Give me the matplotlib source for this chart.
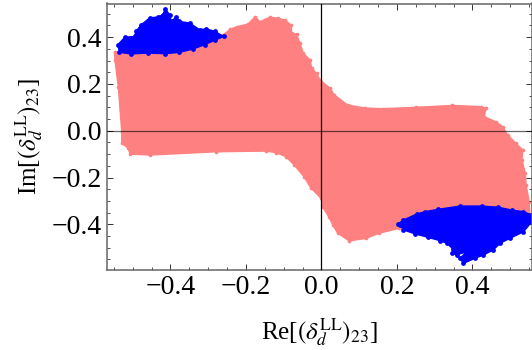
import matplotlib
matplotlib.use('Agg')
import matplotlib.pyplot as plt
from matplotlib.ticker import MultipleLocator, FixedFormatter, FixedLocator

plt.rcParams['font.family'] = ['Liberation Serif', 'DejaVu Serif']
plt.rcParams['mathtext.fontset'] = 'stix'

# outline of the allowed (pink) region
pink_re = [-0.548, -0.52, -0.49, -0.40, -0.33, -0.26, -0.242, -0.225, -0.194, -0.176, -0.163, -0.136, -0.114,
           -0.097, -0.081, -0.079, -0.066, -0.057, -0.048, -0.03, -0.026, -0.013, -0.004, 0.023, 0.034,
           0.069, 0.115, 0.162, 0.25, 0.347, 0.422, 0.436, 0.431, 0.462, 0.48, 0.493, 0.515, 0.533,
           0.531, 0.54, 0.542, 0.55, 0.552, 0.50, 0.30, 0.206, 0.153, 0.118, 0.074, 0.043, 0.03, 0.02,
           0.003, -0.001, -0.028, -0.046, -0.072, -0.094, -0.12, -0.147, -0.278, -0.454, -0.507,
           -0.512, -0.529, -0.529, -0.538, -0.547]
pink_im = [0.335, 0.34, 0.34, 0.34, 0.37, 0.41, 0.433, 0.444, 0.456, 0.487, 0.466, 0.485, 0.48,
           0.473, 0.452, 0.416, 0.413, 0.373, 0.331, 0.302, 0.267, 0.245, 0.217, 0.181, 0.153,
           0.11, 0.097, 0.094, 0.1, 0.108, 0.103, 0.096, 0.06, 0.038, 0.017, -0.018, -0.054, -0.082,
           -0.125, -0.182, -0.232, -0.303, -0.36, -0.36, -0.36, -0.417, -0.438, -0.46, -0.471, -0.438,
           -0.403, -0.37, -0.325, -0.289, -0.245, -0.197, -0.147, -0.111, -0.094, -0.087, -0.09, -0.104,
           -0.1, -0.074, -0.054, -0.004, 0.188, 0.302]

# outlines of the two blue patches
blue_up_re = [-0.539, -0.521, -0.495, -0.491, -0.477, -0.455, -0.433, -0.42, -0.414, -0.402, -0.398, -0.385,
              -0.376, -0.349, -0.323, -0.305, -0.283, -0.259, -0.283, -0.309, -0.34, -0.376, -0.415, -0.46,
              -0.504, -0.535]
blue_up_im = [0.368, 0.399, 0.403, 0.425, 0.453, 0.482, 0.486, 0.496, 0.52, 0.496, 0.467, 0.486,
              0.467, 0.46, 0.432, 0.435, 0.425, 0.403, 0.386, 0.368, 0.349, 0.335, 0.329, 0.332,
              0.328, 0.335]
blue_lo_re = [0.202, 0.217, 0.252, 0.274, 0.309, 0.367, 0.424, 0.468, 0.504, 0.535, 0.557, 0.557, 0.535,
              0.499, 0.473, 0.455, 0.429, 0.407, 0.376, 0.367, 0.385, 0.358, 0.345, 0.349, 0.332, 0.314,
              0.283, 0.248, 0.217, 0.208]
blue_lo_im = [-0.399, -0.382, -0.356, -0.346, -0.336, -0.322, -0.322, -0.327, -0.339, -0.346, -0.36, -0.389,
              -0.432, -0.46, -0.481, -0.51, -0.531, -0.545, -0.567, -0.545, -0.517, -0.531, -0.524, -0.507,
              -0.481, -0.47, -0.456, -0.441, -0.424, -0.403]

major = [-0.4, -0.2, 0.0, 0.2, 0.4]
labels = ['\u22120.4', '\u22120.2', '0.0', '0.2', '0.4']

pink = '#ff8080'
blue = '#0000ff'
frame = '#666666'

fig = plt.figure(figsize=(5.32, 3.5), dpi=100)
ax = fig.add_axes([107 / 532, (350 - 269.7) / 350, 425 / 532, 266.2 / 350])

ax.fill(pink_re, pink_im, facecolor=pink, edgecolor=pink, lw=1, joinstyle='round', zorder=1)
ax.scatter(pink_re, pink_im, s=7, color=pink, lw=0, zorder=1)
ax.fill(blue_up_re, blue_up_im, facecolor=blue, edgecolor=blue, lw=1, joinstyle='round', zorder=2)
ax.scatter(blue_up_re, blue_up_im, s=12, color=blue, lw=0, zorder=2)
ax.fill(blue_lo_re, blue_lo_im, facecolor=blue, edgecolor=blue, lw=1, joinstyle='round', zorder=2)
ax.scatter(blue_lo_re, blue_lo_im, s=12, color=blue, lw=0, zorder=2)

ax.axhline(0, color='black', lw=0.9, alpha=0.6, zorder=3)
ax.axvline(0, color='black', lw=0.9, zorder=3)

ax.set_xlim(-0.568, 0.5576)
ax.set_ylim(-0.594, 0.5436)

for axis in (ax.xaxis, ax.yaxis):
    axis.set_major_locator(FixedLocator(major))
    axis.set_major_formatter(FixedFormatter(labels))
    axis.set_minor_locator(MultipleLocator(0.05))

ax.tick_params(which='major', direction='in', length=4.5, width=0.7, color='#333333',
               top=True, right=True, labelsize=20, pad=4)
ax.tick_params(which='minor', direction='in', length=2.5, width=0.6, color='#333333',
               top=True, right=True)

for s in ax.spines.values():
    s.set_color(frame)
    s.set_linewidth(1.1)

ax.set_xlabel(r'Re[$(\delta_d^{\mathrm{LL}})_{23}$]', fontsize=18)
ax.set_ylabel(r'Im[$(\delta_d^{\mathrm{LL}})_{23}$]', fontsize=18)
ax.xaxis.set_label_coords(0.5, -0.175)
ax.yaxis.set_label_coords(-0.145, 0.5)

plt.savefig('out.png', dpi=100)
